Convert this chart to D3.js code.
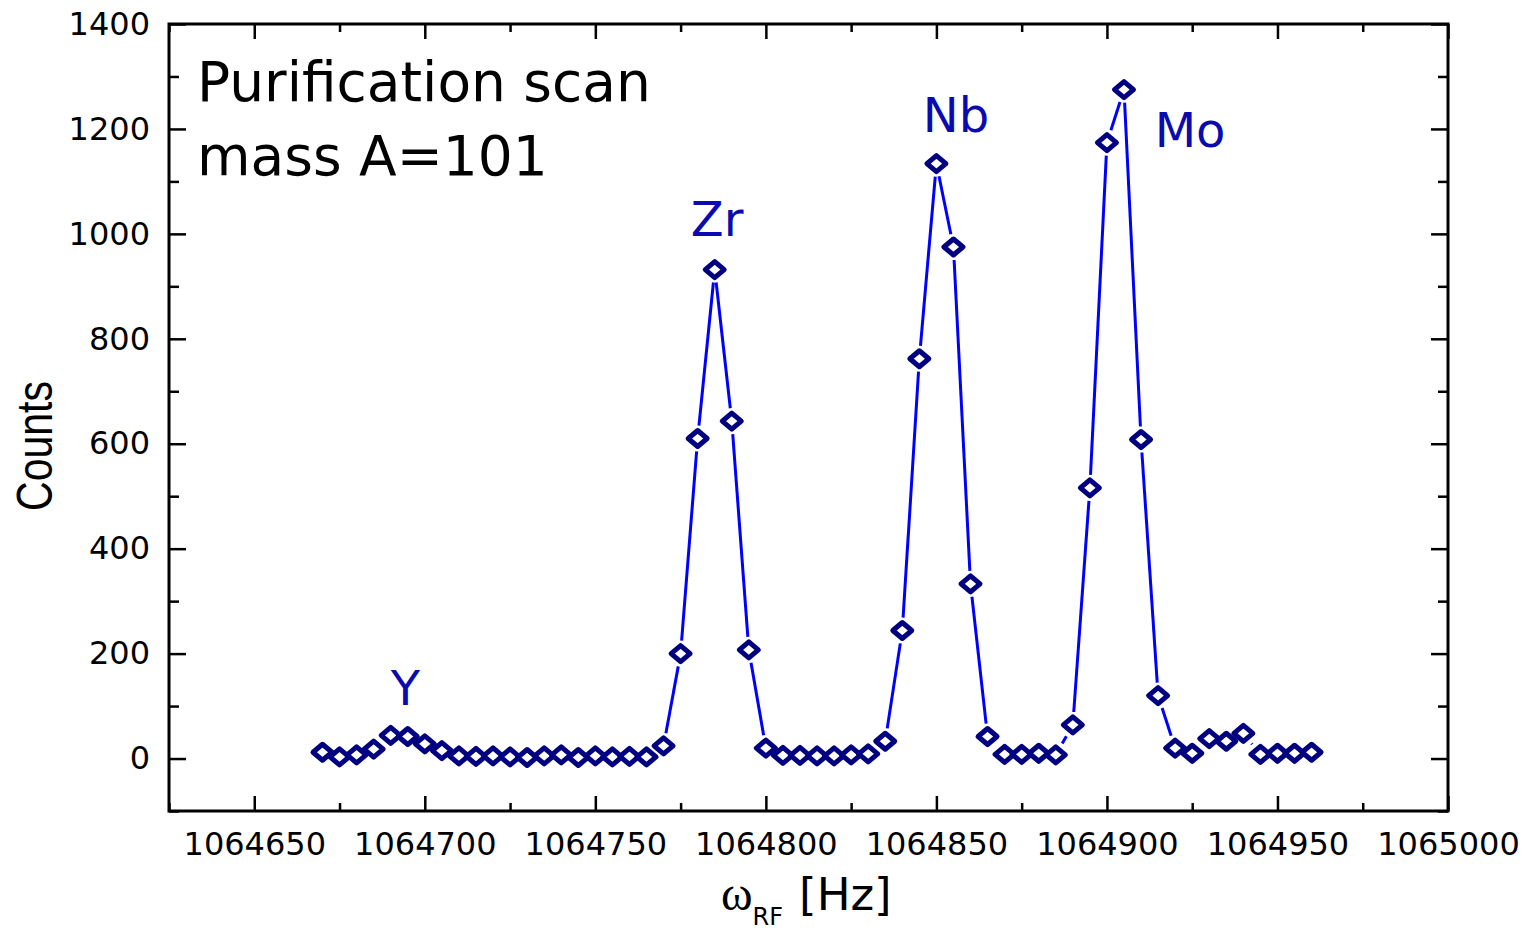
<!DOCTYPE html>
<html>
<head>
<meta charset="utf-8">
<script src="https://cdn.jsdelivr.net/npm/d3@7"></script>
<style>
  body { margin: 0; background: #fff; }
  svg text { font-family: "DejaVu Sans", Verdana, sans-serif; }
</style>
</head>
<body>
<svg class="svg-main" width="1531" height="930"></svg>
<script>
// scan frequencies (Hz) and measured counts
const freqs = d3.range(1064670, 1064961, 5);
const counts = [
  12, 3, 7, 18, 44, 42, 28, 15, 5, 4,
  5, 3, 2, 5, 7, 2, 5, 3, 4, 3,
  24, 200, 610, 932, 643, 207, 20, 6, 6, 5,
  5, 7, 9, 33, 244, 762, 1134, 975, 333, 42,
  8, 8, 10, 7, 64, 516, 1174, 1275, 608, 120,
  20, 10, 38, 33, 48, 8, 10, 10, 12
];
const xTicks = [1064650, 1064700, 1064750, 1064800, 1064850, 1064900, 1064950, 1065000];
const xMinor = [1064625, 1064675, 1064725, 1064775, 1064825, 1064875, 1064925, 1064975];
const yTicks = [0, 200, 400, 600, 800, 1000, 1200, 1400];
const yMinor = [-100, 100, 300, 500, 700, 900, 1100, 1300];
// peak names, anchored in data coordinates
const peakNames = ["Y", "Zr", "Nb", "Mo"];
const peakAt = [[1064690, 102], [1064778, 996], [1064846, 1194], [1064914, 1165]];

const svg = d3.select(".svg-main");
const frame = { left: 169, right: 1448, top: 24, bottom: 811 };

const x = d3.scaleLinear().domain([1064625, 1065000]).range([frame.left, frame.right]);
const y = d3.scaleLinear().domain([-100, 1400]).range([frame.bottom, frame.top]);

const data = freqs.map((f, i) => ({ f: f, c: counts[i] }));

// axes with inward ticks
const axisStyle = (g) => {
  g.select(".domain").remove();
  g.selectAll("line").attr("stroke", "#000").attr("stroke-width", 2.5);
  g.selectAll("text").attr("font-size", 32).attr("fill", "#000");
};

svg.append("g")
  .attr("transform", `translate(0,${frame.bottom})`)
  .call(d3.axisBottom(x).tickValues(xTicks).tickSize(-15).tickPadding(21).tickFormat(d3.format("d")))
  .call(axisStyle);
svg.append("g")
  .attr("transform", `translate(0,${frame.bottom})`)
  .call(d3.axisBottom(x).tickValues(xMinor).tickSize(-8).tickFormat(""))
  .call(axisStyle);
svg.append("g")
  .attr("transform", `translate(0,${frame.top})`)
  .call(d3.axisTop(x).tickValues(xTicks).tickSize(-15).tickFormat(""))
  .call(axisStyle);
svg.append("g")
  .attr("transform", `translate(0,${frame.top})`)
  .call(d3.axisTop(x).tickValues(xMinor).tickSize(-8).tickFormat(""))
  .call(axisStyle);

svg.append("g")
  .attr("transform", `translate(${frame.left},0)`)
  .call(d3.axisLeft(y).tickValues(yTicks).tickSize(-17).tickPadding(19).tickFormat(d3.format("d")))
  .call(axisStyle);
svg.append("g")
  .attr("transform", `translate(${frame.left},0)`)
  .call(d3.axisLeft(y).tickValues(yMinor).tickSize(-10).tickFormat(""))
  .call(axisStyle);
svg.append("g")
  .attr("transform", `translate(${frame.right},0)`)
  .call(d3.axisRight(y).tickValues(yTicks).tickSize(-17).tickFormat(""))
  .call(axisStyle);
svg.append("g")
  .attr("transform", `translate(${frame.right},0)`)
  .call(d3.axisRight(y).tickValues(yMinor).tickSize(-10).tickFormat(""))
  .call(axisStyle);

svg.append("rect")
  .attr("x", frame.left).attr("y", frame.top)
  .attr("width", frame.right - frame.left).attr("height", frame.bottom - frame.top)
  .attr("fill", "none").attr("stroke", "#000").attr("stroke-width", 3);

// connecting line, with a gap around each marker
const gap = 13;
const segs = d3.pairs(data).map(([a, b]) => {
  const x1 = x(a.f), y1 = y(a.c), x2 = x(b.f), y2 = y(b.c);
  const len = Math.hypot(x2 - x1, y2 - y1);
  if (len <= gap * 2) return null;
  const ux = (x2 - x1) / len, uy = (y2 - y1) / len;
  return [x1 + ux * gap, y1 + uy * gap, x2 - ux * gap, y2 - uy * gap];
}).filter(d => d);

svg.append("g")
  .selectAll("line")
  .data(segs)
  .enter().append("line")
    .attr("x1", d => d[0]).attr("y1", d => d[1])
    .attr("x2", d => d[2]).attr("y2", d => d[3])
    .attr("stroke", "#0000ff")
    .attr("stroke-width", 3);

// open diamond markers
const hw = 9.5, hh = 8;
svg.append("g")
  .selectAll("path")
  .data(data)
  .enter().append("path")
    .attr("transform", d => `translate(${x(d.f)},${y(d.c)})`)
    .attr("d", `M${-hw},0L0,${-hh}L${hw},0L0,${hh}Z`)
    .attr("fill", "#fff")
    .attr("stroke", "#000080")
    .attr("stroke-width", 5)
    .attr("stroke-linejoin", "round");

// peak labels
svg.append("g")
  .selectAll("text")
  .data(peakNames)
  .enter().append("text")
    .attr("x", (d, i) => x(peakAt[i][0]))
    .attr("y", (d, i) => y(peakAt[i][1]))
    .attr("font-size", 48)
    .attr("fill", "#0a0ab0")
    .text(d => d);

// inset title
const title = svg.append("text")
  .attr("x", 197).attr("font-size", 55).attr("fill", "#000");
title.append("tspan").attr("x", 197).attr("y", 101).text("Purification scan");
title.append("tspan").attr("x", 197).attr("y", 175).text("mass A=101");

// axis titles
svg.append("text")
  .attr("transform", "translate(52,446) rotate(-90) scale(0.82,1)")
  .attr("text-anchor", "middle")
  .attr("font-size", 50)
  .style("font-family", "'Liberation Sans', Arial, sans-serif")
  .text("Counts");

const xlab = svg.append("text").attr("y", 910).attr("font-size", 45);
xlab.append("tspan")
  .attr("x", 721)
  .style("font-family", "'Liberation Serif', 'Times New Roman', serif")
  .attr("font-size", 48)
  .text("ω");
xlab.append("tspan")
  .attr("dx", 0)
  .attr("dy", 15)
  .attr("font-size", 24)
  .text("RF");
xlab.append("tspan")
  .attr("dy", -15)
  .attr("dx", 16)
  .text("[Hz]");
</script>
</body>
</html>
